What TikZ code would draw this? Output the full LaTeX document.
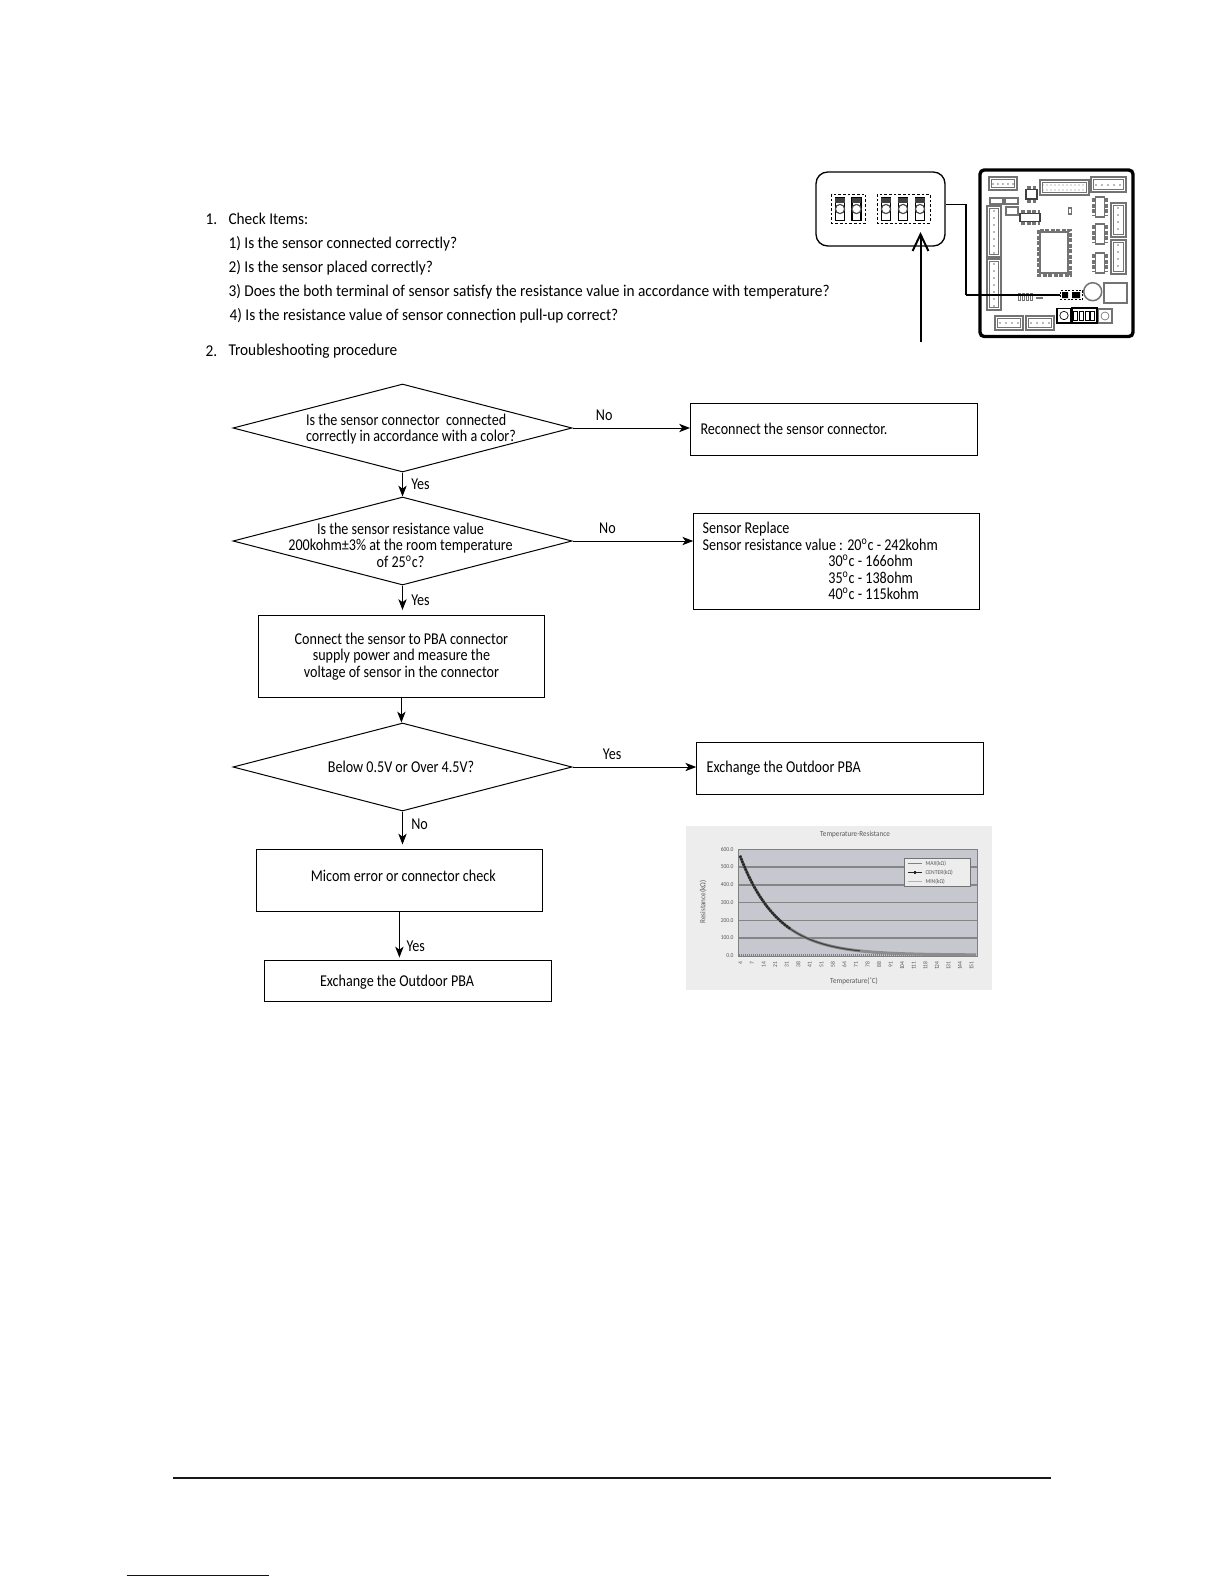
\documentclass[tikz,border=0pt]{standalone}
\usepackage{fontspec}
\setmainfont{Carlito}[FakeStretch=0.93]
\newfontfamily\flowfont{Carlito}[FakeStretch=0.855]
\usepackage{tikz}
\usetikzlibrary{arrows.meta,positioning,shapes.geometric,calc}

\begin{document}
\begin{tikzpicture}[
  x=0.6pt, y=-0.6pt, >={Stealth[length=6.5pt,width=5pt,inset=1.8pt]},
  line width=0.6pt, font=\fontsize{9.9}{9.84}\selectfont,
  decision/.style={diamond, draw, aspect=3.85, inner sep=0pt, minimum width=203.4pt, minimum height=52.8pt},
  dtext/.style={align=flush center, inner sep=0pt, font=\fontsize{9.9}{9.84}\flowfont},
  flowbox/.style 2 args={draw, rectangle, minimum width=#1*0.6pt, minimum height=#2*0.6pt,
    text width=#1*0.6pt, inner xsep=0pt, inner ysep=0pt, align=flush center, font=\fontsize{9.9}{9.84}\flowfont},
  pad/.style={align=flush left, execute at begin node={\leftskip=#1\dimexpr0.6pt\relax}},
  item/.style={anchor=west, inner sep=0pt},
  lab/.style={inner sep=0pt, font=\fontsize{9.9}{9.84}\flowfont},
  comp/.style={draw=black!55, line width=0.7pt, fill=white},
  pins/.style={draw=black!55, line width=1.8pt, dash pattern=on 2.4pt off 0.9pt},
  tiny/.style={font=\fontsize{3.6}{4}\selectfont, text=black!65, inner sep=0pt},
]
\useasboundingbox (0,0) rectangle (1224,1584);

% check list
\node[item] (n1) at (205,219) {1.};
\node[item] (t1) at (228,219) {Check Items:};
\node[item] (q1) at (228,244) {1) Is the sensor connected correctly?};
\node[item] (q2) at (228,268) {2) Is the sensor placed correctly?};
\node[item] (q3) at (228,292) {3) Does the both terminal of sensor satisfy the resistance value in accordance with temperature?};
\node[item] (q4) at (229,316) {4) Is the resistance value of sensor connection pull-up correct?};
\node[item] (n2) at (205,351) {2.};
\node[item] (t2) at (228,351) {Troubleshooting procedure};

% flow chart
\node[decision] (d1) at (402.5,428) {};
\node[dtext, align=flush left] (d1t) at (411,429) {Is the sensor connector\ \ connected\\correctly in accordance with a color?};
\node[decision] (d2) at (402.5,541) {};
\node[dtext] (d2t) at (400.5,545) {Is the sensor resistance value\\200kohm±3\% at the room temperature\\of 25\textsuperscript{o}c?};
\node[flowbox={286}{82}] (c1) at (401.4,656.5) {Connect the sensor to PBA connector\\supply power and measure the\\voltage of sensor in the connector};
\node[decision] (d3) at (402.5,767) {};
\node[dtext] (d3t) at (401,767) {Below 0.5V or Over 4.5V?};
\node[flowbox={286}{62}, pad=54.5, text depth=5pt] (m1) at (399.4,880) {Micom error or connector check};
\node[flowbox={287}{41}, pad=55.5, text height=9pt] (e2) at (408,980.5) {Exchange the Outdoor PBA};
\node[flowbox={287}{52}, pad=10] (r1) at (834,429) {Reconnect the sensor connector.};
\node[flowbox={286}{96}, pad=9] (s1) at (836.7,561) {Sensor Replace\\Sensor resistance value : 20\textsuperscript{o}c -\ 242kohm\\
  \hspace*{75.4pt}30\textsuperscript{o}c -\ 166ohm\\\hspace*{75.4pt}35\textsuperscript{o}c -\ 138ohm\\\hspace*{75.4pt}40\textsuperscript{o}c -\ 115kohm};
\node[flowbox={287}{52}, pad=10] (e1) at (840.2,768) {Exchange the Outdoor PBA};

\draw[->] (d1.east) -- node[lab, pos=.27, above=4pt] {No} (d1.east -| r1.west);
\draw[->] (d2.east) -- node[lab, pos=.29, above=4pt] {No} (d2.east -| s1.west);
\draw[->] (d3.east) -- node[lab, pos=.32, above=4pt] {Yes} (d3.east -| e1.west);
\draw[->] (d1.south) -- node[lab, right=5pt] {Yes} (d1.south |- d2.north);
\draw[->, shorten >=3pt] (d2.south) -- node[lab, right=5pt] {Yes} (d2.south |- c1.north);
\draw[->] (c1.south) -- (c1.south |- d3.north);
\draw[->, shorten >=2.4pt] (d3.south) -- node[lab, pos=.35, right=5pt] {No} (d3.south |- m1.north);
\draw[->, shorten >=1.2pt] (m1.south) -- node[lab, pos=.72, right=4pt] {Yes} (m1.south |- e2.north);

% switch detail
\node[draw, rounded corners=7pt, line width=0.8pt, minimum width=77.4pt, minimum height=44.4pt, inner sep=0pt] (detail) at (880.5,209) {};
\draw[dash pattern=on 1.6pt off 1.2pt, line width=0.5pt] (831.5,194) rectangle (865.5,223) (877,194) rectangle (930,223);
\foreach \sx in {840,856.5,886,903,920} {
  \draw[line width=0.9pt] (\sx-4.7,197.5) rectangle (\sx+4.7,220.5);
  \fill[black!75] (\sx-4.7,197.5) rectangle (\sx+4.7,203);
  \draw[line width=0.7pt, draw=black!70, fill=white] (\sx,209) circle (4.6);
}
\coordinate (arrowfoot) at (920.5,342);
\coordinate (arrowtip) at (920.5,232);
\draw[-{Straight Barb[length=10pt,width=9.5pt]}, line width=1.2pt] (arrowfoot) -- (arrowtip);

% board
\draw[line width=2pt, rounded corners=2.5pt] (980,170) rectangle (1133,336.5);
\foreach \ax/\ay/\bx/\by in {989/177/1017/190, 1040/180/1089/195, 1091/177/1126/192, 987/206/1001/257, 987/259/1001/310,
  1111/203/1126/237, 1111/240/1126/274, 995/316/1023/330, 1026/316/1054/330} {
  \draw[comp] (\ax,\ay) rectangle (\bx,\by);
  \draw[comp, line width=0.4pt] (\ax+2.5,\ay+2.5) rectangle (\bx-2.5,\by-2.5);
}
\foreach \px in {993,998,...,1013} \fill[black!55] (\px,184) circle (0.8);
\foreach \px in {1043,1047,...,1086} {\fill[black!55] (\px,185) circle (0.7); \fill[black!55] (\px,190) circle (0.7);}
\foreach \px in {1096,1102,...,1120} \fill[black!55] (\px,185) circle (0.8);
\foreach \py in {211,218,...,253} \fill[black!55] (994,\py) circle (0.8);
\foreach \py in {264,271,...,306} \fill[black!55] (994,\py) circle (0.8);
\foreach \py in {208,215,...,232} \fill[black!55] (1118,\py) circle (0.8);
\foreach \py in {245,252,...,269} \fill[black!55] (1118,\py) circle (0.8);
\foreach \px in {1000,1006,...,1018} \fill[black!55] (\px,323) circle (0.8);
\foreach \px in {1031,1037,...,1049} \fill[black!55] (\px,323) circle (0.8);
\foreach \py in {197,224,253} {
  \draw[pins] (1093.5,\py+1) -- (1093.5,\py+19) (1106.5,\py+1) -- (1106.5,\py+19);
  \draw[comp] (1095.5,\py) rectangle (1104.5,\py+20);
}
\draw[pins] (1038,230) rectangle (1070,275);
\draw[comp] (1040,232) rectangle (1068,273);
\foreach \cx in {990,1005} \draw[comp] (\cx,198) rectangle (\cx+13,204);
\draw[comp] (1006,207) rectangle (1018,215);
\draw[pins] (1021,211.5) -- (1040,211.5) (1021,223.5) -- (1040,223.5);
\draw[comp, draw=black!75] (1020,213.5) rectangle (1040,221.5);
\draw[pins] (1027,187.5) -- (1036,187.5) (1027,201) -- (1036,201);
\draw[comp, draw=black!75] (1026,189.5) rectangle (1037,199);
\draw[comp] (1068.5,208) rectangle (1071.5,214);
\draw[comp, line width=0.9pt] (1092.7,291.7) circle (9);
\draw[comp] (1104,283) rectangle (1127,303);
\foreach \bx in {1018,1022,1026,1030} \draw[comp, line width=0.4pt] (\bx,293) rectangle (\bx+2,300);
\draw[comp] (1036,298) -- (1043,298);
\node[draw, dash pattern=on 1.2pt off 1pt, line width=0.5pt, minimum width=13.6pt, minimum height=5.2pt, inner sep=0pt] (sw) at (1071.5,295) {};
\fill[black] (1062,292) rectangle (1068,298) (1072,292) rectangle (1080,298);
\draw[line width=1pt] (1057,308.5) rectangle (1071,323);
\draw[line width=0.4pt] (1064,315.5) circle (4.2);
\draw[line width=1.2pt] (1072,307.5) rectangle (1096.5,323);
\foreach \bx in {1075,1081,1087,1092} \draw[line width=0.6pt] (\bx-1.2,311) rectangle (\bx+2,320);
\draw[comp] (1098.5,309) rectangle (1112,323);
\draw[comp, line width=0.4pt] (1105,316) circle (4);
\coordinate (bend1) at (966,204);
\coordinate (bend2) at (966,295);
\draw (detail.east |- bend1) -- (bend1);
\draw[line width=0.7pt] (bend1) -- (bend2);
\draw[line width=1.1pt] (bend2) -- (sw.west);

% chart
\fill[black!7] (686,826) rectangle (992,990);
\fill[blue!15!black!22] (738.5,849) rectangle (977,956);
\draw[black!50, line width=0.4pt] (738.5,849) rectangle (977,956);
\foreach \gy in {867,885,902.5,920.5,938} \draw[black!48, line width=0.7pt] (738.5,\gy) -- (977,\gy);
\draw[black!50, line width=1.1pt, dash pattern=on 0.6pt off 0.6pt] (739,955) -- (977,955);
\draw[black!45, line width=1.8pt] plot[domain=740:976, samples=80] (\x,{955.7-0.1773*(560*exp(-0.0265*(\x-740))+4)});
\draw[black!75, line width=0.7pt] plot[domain=740:860, samples=50] (\x,{955.7-0.1773*(560*exp(-0.0265*(\x-740))+4)});
\draw[black!85, line width=1.5pt, dash pattern=on 1.2pt off 0.5pt] plot[domain=740:790, samples=30] (\x,{955.7-0.1773*(560*exp(-0.0265*(\x-740))+4)});
\node[tiny, font=\fontsize{4.6}{5}\selectfont] (ctitle) at (855,834) {Temperature-Resistance};
\foreach \gy/\gv in {849.5/600.0,867/500.0,885/400.0,902.5/300.0,920.5/200.0,938/100.0,955.5/0.0}
  \node[tiny, anchor=east] at (734,\gy) {\gv};
\node[tiny, rotate=90, font=\fontsize{4.6}{5}\selectfont] (cylabel) at (703,902) {Resistance(kΩ)};
\node[tiny, font=\fontsize{4.6}{5}\selectfont] (cxlabel) at (854,981) {Temperature(˚C)};
\foreach \ti/\tv in {0/4,1/7,2/14,3/21,4/31,5/38,6/41,7/51,8/58,9/64,10/71,11/78,12/88,13/91,14/104,15/111,16/118,17/124,18/131,19/144,20/151}
  \node[tiny, rotate=90, anchor=east] at (740.5+\ti*11.55,961) {\tv};
\node[draw=black!55, fill=black!7, line width=0.4pt, minimum width=39.4pt, minimum height=17pt, inner sep=0pt] (legend) at (937,872.5) {};
\draw[black!50, line width=0.4pt] (907.5,863.5) -- (922,863.5);
\draw[black!85, line width=0.7pt] (907.5,872.5) -- (922,872.5);
\fill[black!85] (913.5,871) rectangle (916,874);
\draw[black!30, line width=0.4pt] (907.5,881.5) -- (922,881.5);
\node[tiny, anchor=west] at (925,863.5) {MAX(kΩ)};
\node[tiny, anchor=west] at (925,872.5) {CENTER(kΩ)};
\node[tiny, anchor=west] at (925,881.5) {MIN(kΩ)};

% page rules
\coordinate (rulea) at (173,1477.7);
\coordinate (ruleb) at (1051,1477.7);
\draw[line width=1.2pt, black!90] (rulea) -- (ruleb);
\coordinate (linka) at (126.7,1575.3);
\coordinate (linkb) at (269,1575.3);
\draw[line width=0.6pt, blue!65!black] (linka) -- (linkb);
\end{tikzpicture}
\end{document}
